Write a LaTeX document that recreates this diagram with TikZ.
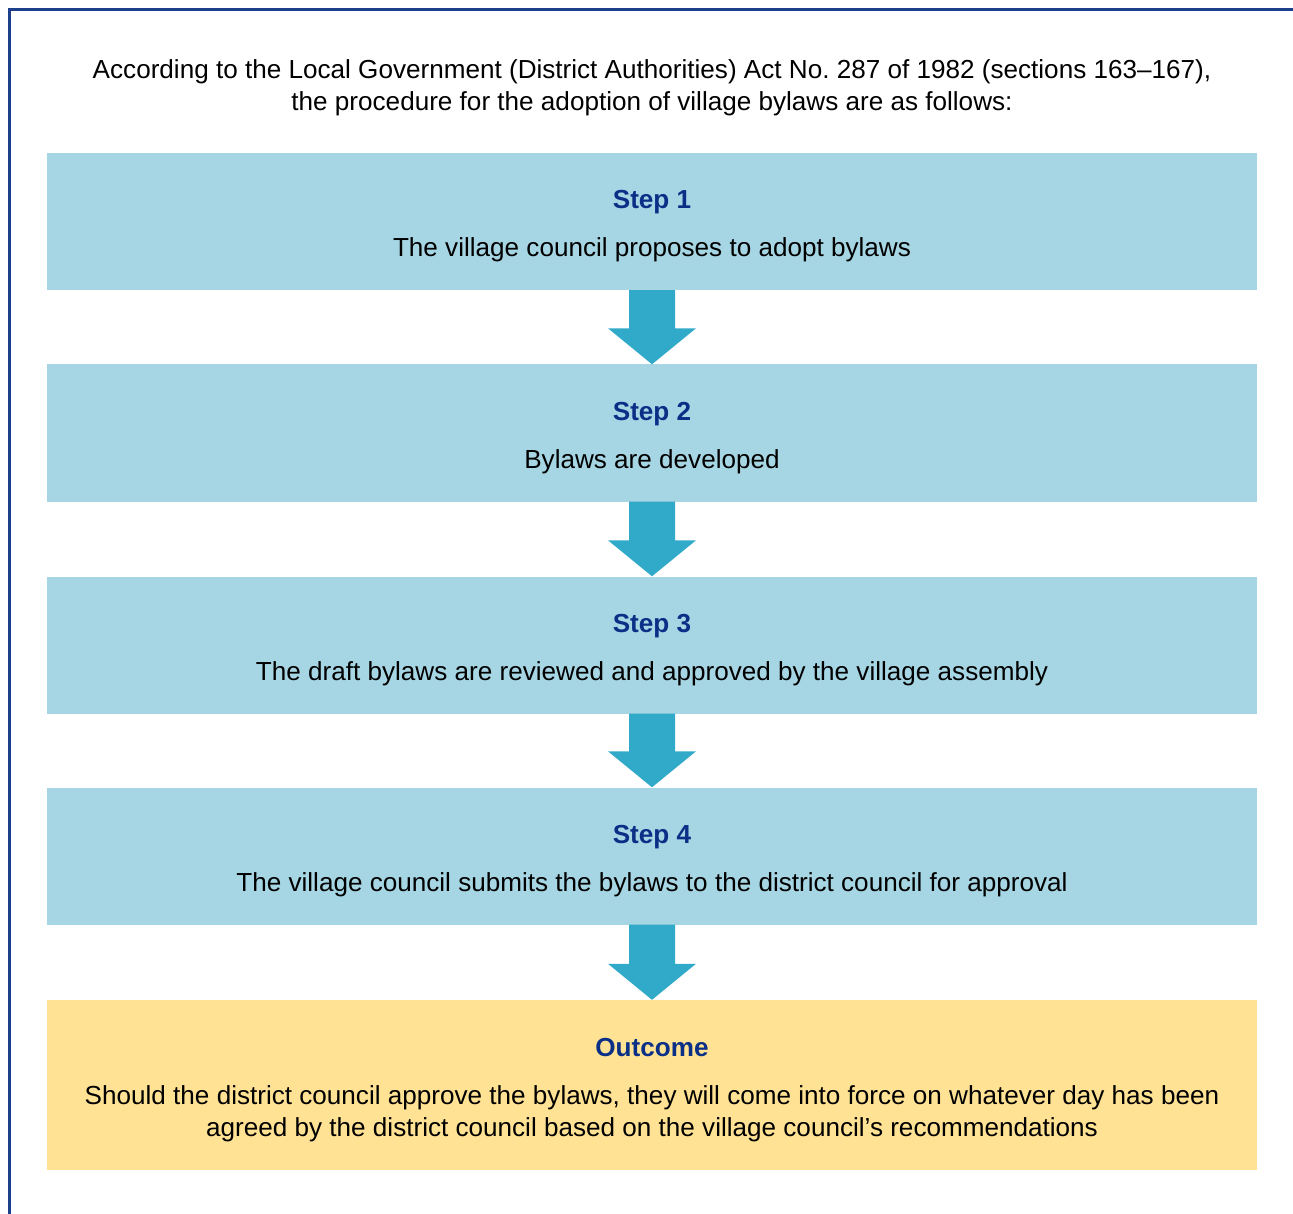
\documentclass[tikz,border=0pt]{standalone}
\usepackage{fontspec}
\setmainfont{Liberation Sans}
\usetikzlibrary{calc}
\definecolor{boxblue}{HTML}{A6D5E3}
\definecolor{arrowblue}{HTML}{31A9C8}
\definecolor{outyellow}{HTML}{FFE294}
\definecolor{framedark}{HTML}{1E3F8C}
\definecolor{labeldark}{HTML}{0A2F87}
\tikzset{
  stepbox/.style={fill=boxblue, draw=none, minimum width=1210pt, minimum height=137pt, inner sep=0pt},
  outbox/.style={stepbox, fill=outyellow, minimum height=170pt},
  txt/.style={inner sep=0pt, align=center, font=\fontsize{26.1}{32}\selectfont},
  downarrow/.style={fill=arrowblue, draw=none},
  frameline/.style={draw=framedark, line width=3pt}
}
\newcommand{\lbl}[1]{{\bfseries\color{labeldark}#1}}
\begin{document}
\begin{tikzpicture}[x=1pt,y=-1pt]
\useasboundingbox (0,0) rectangle (1293,1214);
\draw[frameline] (9.5,1214) -- (9.5,9.5) -- (1293,9.5);
\node[txt] (title) at (652,88) {According to the Local Government (District Authorities) Act No.~287 of 1982 (sections 163--167),\\the procedure for the adoption of village bylaws are as follows:};
\node[stepbox] (s1) at (652,221.5) {};
\node[stepbox] (s2) at (652,433) {};
\node[stepbox] (s3) at (652,645) {};
\node[stepbox] (s4) at (652,856) {};
\node[outbox] (out) at (652,1085) {};
\node[txt] (t1) at ($(s1.center)+(0,5)$) {\lbl{Step 1}\\[16pt]The village council proposes to adopt bylaws};
\node[txt] (t2) at ($(s2.center)+(0,5)$) {\lbl{Step 2}\\[16pt]Bylaws are developed};
\node[txt] (t3) at ($(s3.center)+(0,5)$) {\lbl{Step 3}\\[16pt]The draft bylaws are reviewed and approved by the village assembly};
\node[txt] (t4) at ($(s4.center)+(0,5)$) {\lbl{Step 4}\\[16pt]The village council submits the bylaws to the district council for approval};
\node[txt] (t5) at ($(out.center)+(0,5)$) {\lbl{Outcome}\\[16pt]Should the district council approve the bylaws, they will come into force on whatever day has been\\agreed by the district council based on the village council’s recommendations};
\foreach \a/\b in {s1/s2, s2/s3, s3/s4, s4/out}{
  \fill[downarrow] ($(\a.south)+(-23,0)$) -- ($(\a.south)+(23,0)$) -- ($(\b.north)+(23,-36)$) -- ($(\b.north)+(44,-36)$) -- (\b.north) -- ($(\b.north)+(-44,-36)$) -- ($(\b.north)+(-23,-36)$) -- cycle;
}
\end{tikzpicture}
\end{document}
